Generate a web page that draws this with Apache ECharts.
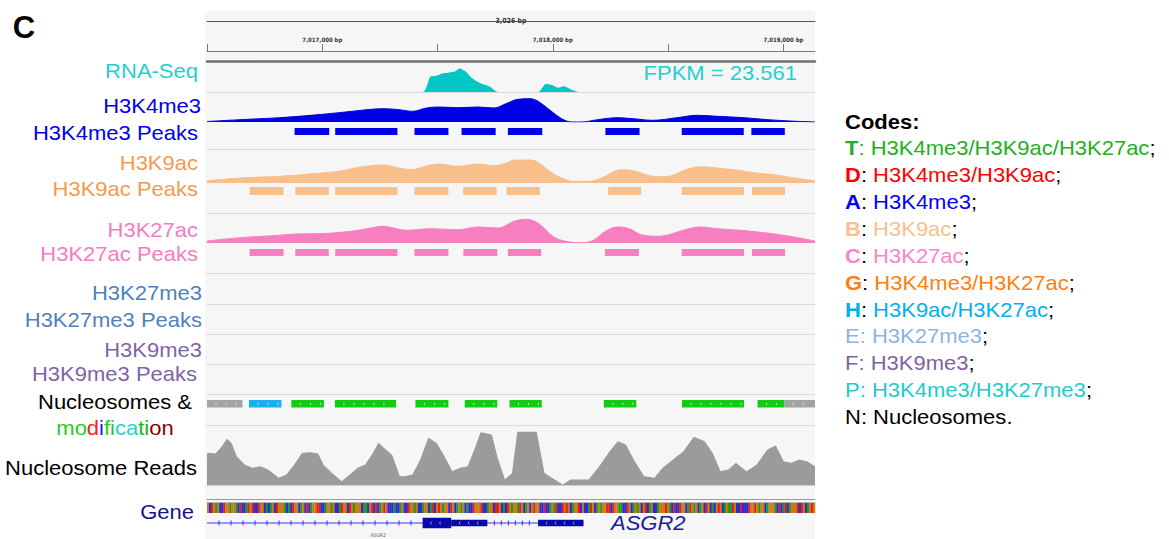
<!DOCTYPE html>
<html><head><meta charset="utf-8">
<script src="https://cdn.jsdelivr.net/npm/echarts@6/dist/echarts.min.js"></script>
<style>html,body{margin:0;padding:0;background:#fff}#main{width:1169px;height:539px}</style>
</head><body><div id="main"></div>
<script>
// ================= DATA =================
// genomic window (bp); all positions below are bp offsets from REGION_START
const REGION_START = 7016500;
const REGION_END = 7019137;
const RULER_SPAN = '3,026 bp';
const rulerTicks = [7016500, 7017000, 7017500, 7018000, 7018500, 7019000];
const rulerLabels = [7017000, 7018000, 7019000];
const FPKM_LABEL = 'FPKM = 23.561';
const GENE_NAME = 'ASGR2';

const trackLabels = ['RNA-Seq', 'H3K4me3', 'H3K4me3 Peaks', 'H3K9ac', 'H3K9ac Peaks', 'H3K27ac', 'H3K27ac Peaks',
  'H3K27me3', 'H3K27me3 Peaks', 'H3K9me3', 'H3K9me3 Peaks', 'Nucleosomes &', 'modification', 'Nucleosome Reads', 'Gene'];

// RNA-Seq coverage
const rnaPos = [0, 935, 969, 990, 1004, 1020, 1037, 1055, 1071, 1085, 1097, 1110, 1123, 1149, 1184, 1227, 1262, 1436, 1470, 1496, 1522, 1548, 1581, 1616, 2637];
const rnaVal = [0, 0, 15.3, 16, 17, 18.5, 19, 19.8, 20.3, 22, 23.7, 22, 20.3, 14, 9, 5.3, 0, 0, 8, 7, 4.3, 5.7, 2.3, 0, 0];

// H3K4me3 signal and peaks
const k4Pos = [0, 143, 314, 451, 573, 694, 763, 833, 892, 952, 1004, 1089, 1175, 1245, 1297, 1349, 1401, 1436, 1488, 1538, 1581, 1624, 1694, 1778, 1848, 1934, 2038, 2125, 2212, 2331, 2433, 2555, 2637];
const k4Val = [0.5, 2.3, 4.3, 6.7, 9.3, 12.3, 13.3, 12.3, 10.7, 14, 15, 14.3, 15, 14, 18.3, 22.7, 23.3, 20.7, 11.7, 3.3, 0, 0, 2.3, 4.3, 3.3, 1.7, 4.3, 6.7, 5.7, 4.3, 2.3, 0.7, 0];
const k4Peaks = [[380, 530], [556, 826], [900, 1047], [1104, 1252], [1305, 1454], [1728, 1876], [2059, 2328], [2361, 2506]];

// H3K9ac signal and peaks
const k9Pos = [0, 143, 314, 486, 573, 659, 763, 833, 883, 969, 1004, 1089, 1175, 1245, 1297, 1332, 1401, 1436, 1488, 1538, 1590, 1659, 1711, 1797, 1848, 1952, 2004, 2073, 2143, 2212, 2297, 2383, 2468, 2555, 2637];
const k9Val = [2.3, 5, 6.7, 9.7, 11.7, 15.7, 18, 15, 13.3, 18, 19, 16.7, 19, 17.3, 19.7, 23, 23, 20.7, 11.3, 5, 1.7, 1.7, 5, 13.3, 12.3, 6.3, 6.7, 13, 16.3, 15, 13, 10, 8, 4.7, 2.3];
const k9Peaks = [[185, 332], [383, 528], [556, 826], [900, 1047], [1111, 1256], [1299, 1443], [1740, 1883], [2059, 2329], [2364, 2507]];

// H3K27ac signal and peaks
const k27Pos = [0, 142, 314, 383, 487, 625, 694, 762, 866, 969, 1090, 1176, 1263, 1332, 1383, 1435, 1504, 1556, 1625, 1676, 1728, 1780, 1832, 1883, 1952, 2004, 2073, 2142, 2211, 2314, 2417, 2521, 2637];
const k27Val = [2, 5.3, 7.7, 9, 9.3, 11.7, 14.3, 16.7, 12.7, 14.3, 13.3, 16, 15, 21.7, 23.7, 20, 6, 1.7, 0.3, 2.7, 11.7, 16, 14.3, 8.3, 6.7, 8.3, 13.3, 16, 14.3, 12.7, 10.3, 7, 2];
const k27Peaks = [[185, 332], [383, 528], [556, 826], [900, 1047], [1112, 1259], [1305, 1449], [1726, 1873], [2059, 2329], [2364, 2507]];

// Nucleosomes & modification codes
const nucStart = [0, 182, 366, 555, 904, 1118, 1312, 1721, 2060, 2388, 2504];
const nucEnd = [154, 323, 507, 820, 1047, 1259, 1452, 1862, 2329, 2504, 2637];
const nucCode = ['N', 'H', 'T', 'T', 'T', 'T', 'T', 'T', 'T', 'T', 'N'];

// Nucleosome reads coverage
const readsPos = [0, 5, 37, 60, 87, 105, 128, 163, 197, 231, 265, 311, 345, 379, 413, 448, 481, 504, 539, 584, 619, 653, 687, 721, 744, 767, 801, 835, 858, 892, 926, 961, 995, 1029, 1063, 1097, 1132, 1166, 1188, 1234, 1257, 1291, 1325, 1348, 1428, 1462, 1508, 1542, 1577, 1656, 1702, 1747, 1782, 1816, 1850, 1895, 1941, 1976, 2021, 2067, 2112, 2158, 2192, 2226, 2261, 2294, 2340, 2385, 2431, 2466, 2500, 2534, 2568, 2602, 2637];
const readsVal = [31, 31.7, 31, 36.7, 45.7, 41.7, 28.3, 20, 16.7, 18.3, 15, 6.7, 10, 20, 31.7, 32.3, 31, 20, 12.3, 3.3, 10, 16.7, 20, 31.7, 41.7, 36.7, 30, 8.3, 8.3, 10, 25, 46.7, 41.7, 28.3, 13.3, 16.7, 18.3, 38.3, 52.3, 50, 28.3, 5, 11.7, 53, 53, 11.7, 5, 0, 5, 5, 18.3, 33.3, 43.3, 40, 25, 8.3, 6.7, 16.7, 25, 33.3, 47.7, 43.3, 31.7, 13.3, 15, 21.7, 13.3, 20, 35, 39, 23.3, 21.7, 25, 23.3, 18.3];

// Reference sequence strip (downsampled)
const refSeq =
  'GCTGAGCCTGGAGGACTCCATGTCCTGGCACAGCTGGGACACTGGCAGCTCAGGTTCCAG' +
  'GAGCCATGGCTGAGGGCAACGTCTCAGTGCCCACCAGCCTGGAGCCAGGCATCGTGAGGC' +
  'TGCAGAGCACCTGGGTCCAGGCTTGCACTGAGGATGCAGCGTGGCCTCCAGATCCTGTGC' +
  'AGGTCGCCATGCAGAGGTTCTGGAACCTGCAGAGCGTCAGCCAGGGTGACTCCTGGCATG' +
  'AGCAGCTGCACGTGCAGAATGCCTCCCTGGTGAGGCAGGGACTCATCAGGGTCTGCAGTG';

// Gene model
const geneSpan = [0, 1633];
const geneExons = [[935, 1059, 'cds'], [1059, 1216, 'utr'], [1436, 1633, 'utr']];
const geneLabelAt = 742;

// Codes legend
const codeLetters = ['T', 'D', 'A', 'B', 'C', 'G', 'H', 'E', 'F', 'P', 'N'];
const codeMarks = ['H3K4me3/H3K9ac/H3K27ac', 'H3K4me3/H3K9ac', 'H3K4me3', 'H3K9ac', 'H3K27ac', 'H3K4me3/H3K27ac',
  'H3K9ac/H3K27ac', 'H3K27me3', 'H3K9me3', 'H3K4me3/H3K27me3', 'Nucleosomes'];

// ================= STYLE / LAYOUT =================
const FONT = "'Liberation Sans', Arial, sans-serif";
const NARROW = "'Liberation Sans Narrow', 'DejaVu Sans Condensed', sans-serif";
const SX = 1.1;
const PANEL_L = 207, PANEL_W = 608;
const SEP = '#d9d9df';
const codeColors = ['#22b022', '#ff0000', '#0000ff', '#f9bf8f', '#f787c8', '#ff7f0e', '#00b0f0', '#8db4e2', '#7f63a1', '#1dcccc', '#000000'];
const codeBold = [true, true, true, true, true, true, true, false, false, false, false];
const NUC_COLORS = {N: '#a3a3a3', H: '#1ab0f0', T: '#11cc11'};
const BASE_COLORS = {A: '#1f9a1f', C: '#2a2ad8', G: '#cc7a18', T: '#e0201a'};

const grids = [], xAxes = [], yAxes = [], series = [], graphics = [];
const abs = p => p + REGION_START;

function addTrack(top, height, opts) {
  opts = opts || {};
  const gi = grids.length;
  grids.push(Object.assign({left: PANEL_L, width: PANEL_W, top, height}, opts.grid || {}));
  xAxes.push(Object.assign({gridIndex: gi, type: 'value', min: REGION_START, max: REGION_END, show: false, position: 'bottom'}, opts.x || {}));
  const xi = xAxes.length - 1;
  yAxes.push(Object.assign({gridIndex: gi, type: 'value', min: 0, max: opts.ymax != null ? opts.ymax : height, show: false, position: 'left'}, opts.y || {}));
  const yi = yAxes.length - 1;
  return {gi, xi, yi};
}
function addLine(track, position, color, width, offset) {
  xAxes.push({gridIndex: track.gi, type: 'value', min: REGION_START, max: REGION_END, position, offset: offset || 0,
    axisLine: {show: true, onZero: false, lineStyle: {color, width}}, axisTick: {show: false},
    axisLabel: {show: false}, splitLine: {show: false}});
}
function areaSeries(track, pos, val, color, smooth, lineWidth) {
  series.push({type: 'line', xAxisIndex: track.xi, yAxisIndex: track.yi,
    data: pos.map((p, i) => [abs(p), val[i]]), showSymbol: false, smooth,
    lineStyle: {color, width: lineWidth == null ? 1 : lineWidth}, areaStyle: {color, opacity: 1}, silent: true, animation: false});
}
function peakSeries(track, peaks, color, y0, y1) {
  series.push({type: 'custom', xAxisIndex: track.xi, yAxisIndex: track.yi, silent: true, animation: false,
    data: peaks.map(d => [abs(d[0]), abs(d[1])]),
    renderItem: (params, api) => {
      const a = api.coord([api.value(0), 0]), b = api.coord([api.value(1), 0]);
      const top = params.coordSys.y;
      return {type: 'rect', shape: {x: a[0], y: top + y0, width: b[0] - a[0], height: y1 - y0}, style: {fill: color}};
    }});
}

// panel background
addTrack(11, 528, {grid: {left: 205, width: 610, show: true, backgroundColor: '#f6f6f6', borderWidth: 0}});

// ruler
const ruler = addTrack(21, 30, {x: {
  show: true, position: 'bottom', interval: 500,
  axisLine: {show: true, onZero: false, lineStyle: {color: '#7a7a7a'}},
  axisTick: {show: true, inside: true, length: 7, customValues: rulerTicks, lineStyle: {color: '#7a7a7a'}},
  axisLabel: {show: true, inside: true, margin: 9, customValues: rulerLabels, fontSize: 6, fontWeight: 'bold',
    fontFamily: NARROW, color: '#333', formatter: v => Number(v).toLocaleString('en-US') + ' bp'},
  splitLine: {show: false}}});
xAxes.push({gridIndex: ruler.gi, type: 'value', min: REGION_START, max: REGION_END, position: 'top',
  axisLine: {show: true, onZero: false, lineStyle: {color: '#555'}}, axisTick: {show: false}, axisLabel: {show: false},
  splitLine: {show: false}, name: RULER_SPAN, nameLocation: 'middle', nameGap: 0,
  nameTextStyle: {fontSize: 7, fontWeight: 'bold', fontFamily: NARROW, color: '#333', backgroundColor: '#f6f6f6',
    padding: [1, 3], verticalAlign: 'middle'}});

// RNA-Seq
const rna = addTrack(61, 31);
addLine(rna, 'top', '#707070', 2.5);
addLine(rna, 'bottom', SEP, 1.2);
areaSeries(rna, rnaPos, rnaVal, '#00c6c6', 0.25, 0);

// H3K4me3
const k4 = addTrack(93, 29);
areaSeries(k4, k4Pos, k4Val, '#0000e6', 0.35);
const k4p = addTrack(122, 27);
addLine(k4p, 'bottom', SEP, 1.2);
peakSeries(k4p, k4Peaks, '#0000e6', 6, 13);

// H3K9ac
const k9 = addTrack(150, 33);
areaSeries(k9, k9Pos, k9Val, '#f9bf8b', 0.35);
const k9p = addTrack(183, 30);
addLine(k9p, 'bottom', SEP, 1.2);
peakSeries(k9p, k9Peaks, '#f9bf8b', 4, 12);

// H3K27ac
const k27 = addTrack(214, 29);
areaSeries(k27, k27Pos, k27Val, '#f77fbf', 0.35);
const k27p = addTrack(243, 30);
addLine(k27p, 'bottom', SEP, 1.2);
peakSeries(k27p, k27Peaks, '#f77fbf', 6, 13);

// empty tracks
[[274, 30], [304, 30], [334, 30], [364, 30]].forEach(([t, h]) => {
  const tr = addTrack(t, h);
  addLine(tr, 'bottom', SEP, 1.2);
});

// Nucleosomes & modification
const nuc = addTrack(395, 30);
addLine(nuc, 'bottom', SEP, 1.2);
series.push({type: 'custom', xAxisIndex: nuc.xi, yAxisIndex: nuc.yi, silent: true, animation: false,
  data: nucStart.map((s, i) => [abs(s), abs(nucEnd[i]), i]),
  renderItem: (params, api) => {
    const a = api.coord([api.value(0), 0]), b = api.coord([api.value(1), 0]);
    const code = nucCode[api.value(2)];
    const top = params.coordSys.y + 5;
    const children = [{type: 'rect', shape: {x: a[0], y: top, width: b[0] - a[0], height: 7.5}, style: {fill: NUC_COLORS[code]}}];
    for (let x = a[0] + 9; x < b[0] - 3; x += 10) {
      children.push({type: 'line', shape: {x1: x, y1: top + 2.5, x2: x, y2: top + 5}, style: {stroke: 'rgba(255,255,255,0.6)', lineWidth: 1}});
    }
    return {type: 'group', children};
  }});

// Nucleosome reads
const reads = addTrack(432, 53);
addLine(reads, 'bottom', '#cfcfcf', 1);
areaSeries(reads, readsPos, readsVal, '#9b9b9b', false);

// Sequence strip
const seq = addTrack(499, 15);
addLine(seq, 'top', '#9a9a9a', 1);
addLine(seq, 'top', '#b4b4b4', 1, -3);
const baseSpan = (REGION_END - REGION_START) / refSeq.length;
series.push({type: 'custom', xAxisIndex: seq.xi, yAxisIndex: seq.yi, silent: true, animation: false,
  data: refSeq.split('').map((b, i) => [REGION_START + i * baseSpan, REGION_START + (i + 1) * baseSpan, i]),
  renderItem: (params, api) => {
    const a = api.coord([api.value(0), 0]), b = api.coord([api.value(1), 0]);
    const base = refSeq[api.value(2)];
    return {type: 'rect', shape: {x: a[0], y: params.coordSys.y + 4, width: b[0] - a[0] + 0.3, height: 10}, style: {fill: BASE_COLORS[base]}};
  }});

// Gene model
const gene = addTrack(514, 25);
series.push({type: 'custom', xAxisIndex: gene.xi, yAxisIndex: gene.yi, silent: true, animation: false,
  data: [[abs(geneSpan[0]), abs(geneSpan[1])]],
  renderItem: (params, api) => {
    const a = api.coord([api.value(0), 0]), b = api.coord([api.value(1), 0]);
    const y = params.coordSys.y + 9;
    const children = [{type: 'line', shape: {x1: a[0], y1: y, x2: b[0], y2: y}, style: {stroke: '#3535ff', lineWidth: 1}}];
    // strand ticks in introns
    let prev = geneSpan[0];
    geneExons.concat([[geneSpan[1], geneSpan[1]]]).forEach(ex => {
      const s = api.coord([abs(prev), 0])[0], e = api.coord([abs(ex[0]), 0])[0];
      const step = (e - s) > 100 ? 12 : 7;
      for (let x = s + step; x < e - 3; x += step) {
        children.push({type: 'line', shape: {x1: x, y1: y - 2.5, x2: x, y2: y + 2.5}, style: {stroke: '#3535ff', lineWidth: 1}});
      }
      prev = ex[1];
    });
    return {type: 'group', children};
  }});
series.push({type: 'custom', xAxisIndex: gene.xi, yAxisIndex: gene.yi, silent: true, animation: false, z: 3,
  data: geneExons.map(e => [abs(e[0]), abs(e[1]), e[2] === 'cds' ? 1 : 0]),
  renderItem: (params, api) => {
    const a = api.coord([api.value(0), 0]), b = api.coord([api.value(1), 0]);
    const h = api.value(2) ? 10.5 : 6.5;
    const y = params.coordSys.y + 9;
    const children = [{type: 'rect', shape: {x: a[0], y: y - h / 2, width: b[0] - a[0], height: h}, style: {fill: '#0a0aaa'}}];
    for (let x = a[0] + 8; x < b[0] - 4; x += 9) {
      children.push({type: 'line', shape: {x1: x + 1, y1: y - 1.5, x2: x, y2: y}, style: {stroke: 'rgba(255,255,255,0.7)', lineWidth: 0.8}});
      children.push({type: 'line', shape: {x1: x, y1: y, x2: x + 1, y2: y + 1.5}, style: {stroke: 'rgba(255,255,255,0.7)', lineWidth: 0.8}});
    }
    return {type: 'group', children};
  }});
series.push({type: 'custom', xAxisIndex: gene.xi, yAxisIndex: gene.yi, silent: true, animation: false,
  data: [[abs(geneLabelAt)]],
  renderItem: (params, api) => {
    const a = api.coord([api.value(0), 0]);
    return {type: 'text', x: a[0], y: params.coordSys.y + 21,
      style: {text: GENE_NAME, fontSize: 5, fontFamily: NARROW, fill: '#666', align: 'center', verticalAlign: 'middle'}};
  }});

// ---------- text graphics ----------
function label(text, x, y, color, align, extra) {
  graphics.push({type: 'text', x, y, scaleX: SX, silent: true,
    style: Object.assign({text, fill: color, fontSize: 20, fontFamily: FONT, align: align || 'right', verticalAlign: 'middle'}, extra || {})});
}
graphics.push({type: 'text', x: 24, y: 27, silent: true,
  style: {text: 'C', fill: '#000', fontSize: 31, fontWeight: 'bold', fontFamily: FONT, align: 'center', verticalAlign: 'middle'}});

const labelStyle = [
  ['#1fd0d0', 198, 71], ['#0000ee', 201, 106], ['#0000ee', 198, 132.5], ['#f59a50', 198, 162.5], ['#f59a50', 198, 189],
  ['#f47cc0', 198, 229.5], ['#f47cc0', 198, 253.5], ['#4f81bd', 202, 293], ['#4f81bd', 202, 320], ['#8064a2', 202, 349.5],
  ['#8064a2', 197, 374], ['#000', 115, 402], [null, 115, 428], ['#000', 197, 468], ['#14148c', 194, 512]
];
const modColors = ['#22cc22', '#22cc22', '#ff1a1a', '#1a1aff', '#22cc22', '#22cc22', '#1fd0d0', '#1fd0d0', '#22b022', '#22b022', '#8b0000', '#8b0000'];
trackLabels.forEach((t, i) => {
  const [c, x, y] = labelStyle[i];
  if (t === 'modification') {
    const rich = {};
    let txt = '';
    t.split('').forEach((ch, k) => { rich['c' + k] = {fill: modColors[k], fontSize: 20, fontFamily: FONT}; txt += '{c' + k + '|' + ch + '}'; });
    graphics.push({type: 'text', x, y, scaleX: SX, silent: true,
      style: {text: txt, rich, fontSize: 20, fontFamily: FONT, align: 'center', verticalAlign: 'middle'}});
  } else if (t === 'Nucleosomes &') {
    label(t, x, y, c, 'center');
  } else {
    label(t, x, y, c, 'right');
  }
});
label(FPKM_LABEL, 797, 73, '#22d0d0', 'right');
label(GENE_NAME, 611, 523, '#1b1b9c', 'left', {fontStyle: 'italic'});

// Codes legend
graphics.push({type: 'text', x: 845, y: 122, scaleX: SX, silent: true,
  style: {text: 'Codes:', fill: '#000', fontSize: 20, fontWeight: 'bold', fontFamily: FONT, align: 'left', verticalAlign: 'middle'}});
codeLetters.forEach((c, i) => {
  const col = codeColors[i];
  const bold = codeBold[i];
  const colonCol = (i === 0 || !bold) ? col : '#000';
  const end = i === codeLetters.length - 1 ? '.' : ';';
  graphics.push({type: 'text', x: 845, y: 148 + i * 26.9, scaleX: SX, silent: true,
    style: {text: '{l|' + c + '}{k|: }{m|' + codeMarks[i] + '}{e|' + end + '}', fontSize: 20, fontFamily: FONT,
      align: 'left', verticalAlign: 'middle',
      rich: {
        l: {fill: col, fontSize: 20, fontFamily: FONT, fontWeight: bold ? 'bold' : 'normal'},
        k: {fill: colonCol, fontSize: 20, fontFamily: FONT},
        m: {fill: col, fontSize: 20, fontFamily: FONT},
        e: {fill: '#000', fontSize: 20, fontFamily: FONT}
      }}});
});

const chart = echarts.init(document.getElementById('main'), null, {renderer: 'svg'});
chart.setOption({animation: false, grid: grids, xAxis: xAxes, yAxis: yAxes, series, graphic: graphics});
</script>
</body></html>
